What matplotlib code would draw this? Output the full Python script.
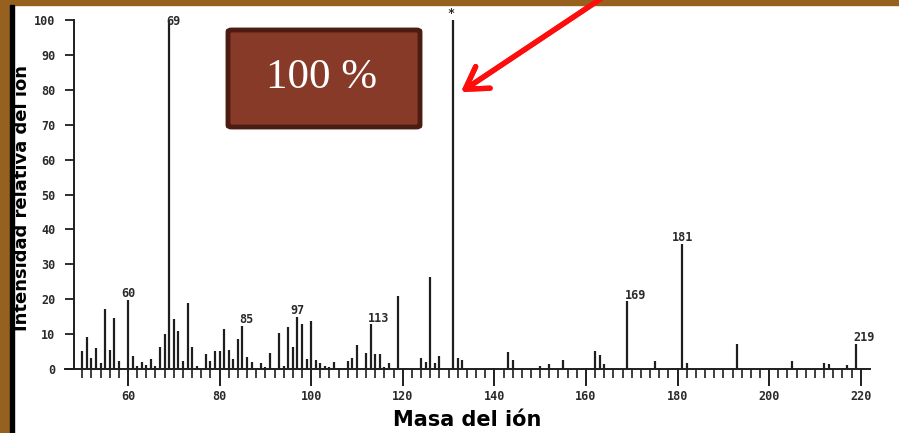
import matplotlib
matplotlib.use("Agg")
import matplotlib.pyplot as plt
from matplotlib.patches import Rectangle, FancyBboxPatch

# espectro de masas (m/z, intensidad relativa %)
masses = [50, 51, 52, 53, 54, 55, 56, 57, 58, 60, 61, 62, 63, 64, 65, 66, 67, 68,
          69, 70, 71, 72, 73, 74, 75, 77, 78, 79, 80, 81, 82, 83, 84, 85, 86, 87,
          89, 90, 91, 93, 94, 95, 96, 97, 98, 99, 100, 101, 102, 103, 104, 105,
          106, 108, 109, 110, 112, 113, 114, 115, 116, 117, 119, 124, 125, 126,
          127, 128, 131, 132, 133, 143, 144, 150, 152, 155, 162, 163, 164, 169,
          175, 181, 182, 193, 205, 212, 213, 217, 219]
intensity = [5.1, 9.1, 3.2, 6.0, 1.7, 17.2, 5.5, 14.6, 2.4, 19.7, 3.6, 0.8, 1.9,
             1.2, 2.9, 1.0, 6.2, 10.1, 100, 14.4, 11.0, 2.4, 18.8, 6.2, 1.0, 4.3,
             2.2, 5.3, 5.3, 11.5, 5.5, 2.9, 8.6, 12.4, 3.4, 1.9, 1.7, 0.5, 4.6,
             10.3, 1.0, 12.0, 6.2, 15.0, 12.8, 2.9, 13.8, 2.6, 1.6, 0.9, 0.5, 2.1,
             0.3, 2.3, 3.1, 6.9, 4.7, 12.8, 4.3, 4.3, 0.5, 1.6, 20.9, 3.3, 1.9,
             26.3, 1.7, 3.6, 100, 3.3, 2.7, 4.8, 2.5, 1.0, 1.5, 2.7, 5.3, 3.9, 1.4,
             19.4, 2.4, 35.8, 1.7, 7.3, 2.4, 1.8, 1.5, 1.3, 7.1]

labeled_peaks = [60, 69, 85, 97, 113, 169, 181, 219]
base_peak = 131
x_ticks = [60, 80, 100, 120, 140, 160, 180, 200, 220]
x_minor = list(range(50, 221, 2))
y_ticks = list(range(0, 101, 10))

W, H = 899, 433
fig = plt.figure(figsize=(W / 100, H / 100), dpi=100)
fig.patch.set_facecolor("white")

# marco de la diapositiva
fig.patches.append(Rectangle((0, 0), 10 / W, 1, transform=fig.transFigure,
                             color="#96601f", zorder=0))
fig.patches.append(Rectangle((0, 1 - 5 / H), 1, 5 / H, transform=fig.transFigure,
                             color="#96601f", zorder=0))
fig.patches.append(Rectangle((10 / W, 0), 3.5 / W, 1 - 5 / H, transform=fig.transFigure,
                             color="black", zorder=0))

ax = fig.add_axes([64 / W, 46.5 / H, 816 / W, 384 / H])
ax.set_xlim(46.03, 224.2)
ax.set_ylim(-5, 105)
ax.patch.set_alpha(0)

ax.vlines(masses, 0, intensity, color="#1e1e1e", lw=1.6)

mono = dict(family="DejaVu Sans Mono", weight="bold", size=8.5, color="#2a2a2a")
for m in labeled_peaks:
    v = intensity[masses.index(m)]
    ha = "center" if m in (60, 97, 181) else "left"
    dx = 0 if ha == "center" else -0.6
    ax.text(m + dx, min(v + 1.8, 99.5), str(m), ha=ha, va="center", **mono)
ax.text(base_peak - 0.4, 101.8, "*", ha="center", va="center", **mono)

for s in ("top", "right"):
    ax.spines[s].set_visible(False)
ax.spines["bottom"].set_position(("data", 0))
ax.spines["bottom"].set_bounds(46.2, 222.0)
ax.spines["left"].set_position(("data", 48.2))
ax.spines["left"].set_bounds(0, 100)
for s in ("bottom", "left"):
    ax.spines[s].set_linewidth(1.4)
    ax.spines[s].set_color("#1e1e1e")

ax.set_xticks(x_ticks)
ax.set_xticks(x_minor, minor=True)
ax.set_yticks(y_ticks)
ax.tick_params(axis="x", which="major", length=12, width=1.4, pad=3,
               direction="out", color="#1e1e1e")
ax.tick_params(axis="x", which="minor", length=6.5, width=1.2, direction="out",
               color="#1e1e1e")
ax.tick_params(axis="y", length=6.5, width=1.3, pad=7, direction="out",
               color="#1e1e1e")
for lab in ax.get_xticklabels() + ax.get_yticklabels():
    lab.set_fontfamily("DejaVu Sans Mono")
    lab.set_fontweight("bold")
    lab.set_fontsize(8.5)
    lab.set_color("#2a2a2a")

fig.text(22 / W, 1 - 198 / H, "Intensidad relativa del ión", rotation=90,
         ha="center", va="center", family="DejaVu Sans", weight="bold", size=13)
fig.text(467 / W, 1 - 420 / H, "Masa del ión", ha="center", va="center",
         family="DejaVu Sans", weight="bold", size=15)

# recuadro "100 %"
fig.patches.append(FancyBboxPatch((228 / W, 1 - 127 / H), 192 / W, 97 / H,
                                  boxstyle="round,pad=0,rounding_size=0.004",
                                  transform=fig.transFigure, facecolor="#873a28",
                                  edgecolor="#4c1c12", lw=3.5, zorder=3))
fig.text(322 / W, 1 - 78 / H, "100 %", ha="center", va="center",
         family=["Liberation Serif", "DejaVu Serif"], size=31, color="white",
         zorder=4)

# flecha roja
fig.add_artist(plt.annotate("", xy=(461 / W, 1 - 92 / H), xycoords="figure fraction",
                            xytext=(608 / W, 1 + 6 / H), textcoords="figure fraction",
                            arrowprops=dict(arrowstyle="->,head_length=0.9,head_width=0.55",
                                            color="#ff0d0d", lw=3.8,
                                            mutation_scale=17, shrinkA=0, shrinkB=0),
                            annotation_clip=False))

fig.savefig("out.png", dpi=100)
